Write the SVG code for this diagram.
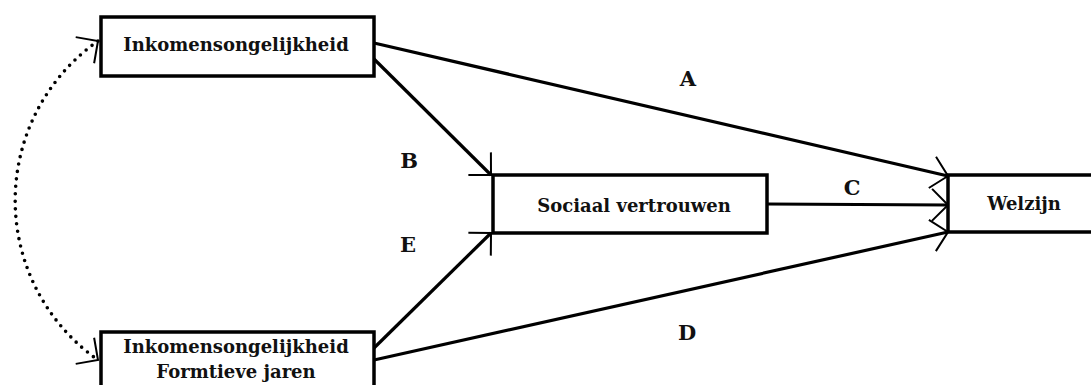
<svg xmlns="http://www.w3.org/2000/svg" width="1091" height="385" viewBox="0 0 1091 385">
  <style>
    .box { fill: #ffffff; stroke: #000000; stroke-width: 3.5; }
    .lbl { font-family: "DejaVu Serif", "Liberation Serif", serif; font-weight: bold; font-size: 18px; fill: #111111; text-anchor: middle; }
    .edge-lbl { font-family: "DejaVu Serif", "Liberation Serif", serif; font-weight: bold; font-size: 21px; fill: #111111; text-anchor: middle; }
    .conn { fill: none; stroke: #000000; stroke-width: 3.2; }
    .dotted { fill: none; stroke: #000000; stroke-width: 3.6; stroke-linecap: round; stroke-dasharray: 0 7.5; }
  </style>
  <defs>
    <marker id="arrow" viewBox="-20 -20 24 40" refX="0" refY="0" markerWidth="24" markerHeight="40" markerUnits="userSpaceOnUse" orient="auto-start-reverse">
      <path d="M-16,-16 L0,0 L-16,16" fill="none" stroke="#000000" stroke-width="2"/>
    </marker>
  </defs>
  <rect width="1091" height="385" fill="#ffffff"/>

  <g id="connectors">
    <path id="edge-A" class="conn" d="M374,43 L948,176" marker-end="url(#arrow)"/>
    <path id="edge-B" class="conn" d="M374,59 L491,175" marker-end="url(#arrow)"/>
    <path id="edge-C" class="conn" d="M767,204 L948,205" marker-end="url(#arrow)"/>
    <path id="edge-D" class="conn" d="M374,360 L948,232" marker-end="url(#arrow)"/>
    <path id="edge-E" class="conn" d="M374,348 L491,233" marker-end="url(#arrow)"/>
    <path id="edge-corr" class="dotted" d="M98,41 A195,195 0 0,0 98,360" marker-start="url(#arrow)" marker-end="url(#arrow)"/>
    <text class="edge-lbl" x="688" y="86">A</text>
    <text class="edge-lbl" x="409" y="168">B</text>
    <text class="edge-lbl" x="852" y="195">C</text>
    <text class="edge-lbl" x="687" y="340">D</text>
    <text class="edge-lbl" x="408" y="252">E</text>
  </g>

  <g id="node-inkomen">
    <rect class="box" x="101" y="17" width="273" height="59"/>
    <text class="lbl" x="236" y="51">Inkomensongelijkheid</text>
  </g>

  <g id="node-inkomen-formatief">
    <rect class="box" x="101" y="332" width="273" height="70"/>
    <text class="lbl" x="236" y="353">Inkomensongelijkheid</text>
    <text class="lbl" x="236" y="378">Formtieve jaren</text>
  </g>

  <g id="node-sociaal">
    <rect class="box" x="493" y="175" width="274" height="58"/>
    <text class="lbl" x="634" y="212">Sociaal vertrouwen</text>
  </g>

  <g id="node-welzijn">
    <rect class="box" x="948" y="175" width="160" height="57"/>
    <text class="lbl" x="1024" y="210">Welzijn</text>
  </g>
</svg>
